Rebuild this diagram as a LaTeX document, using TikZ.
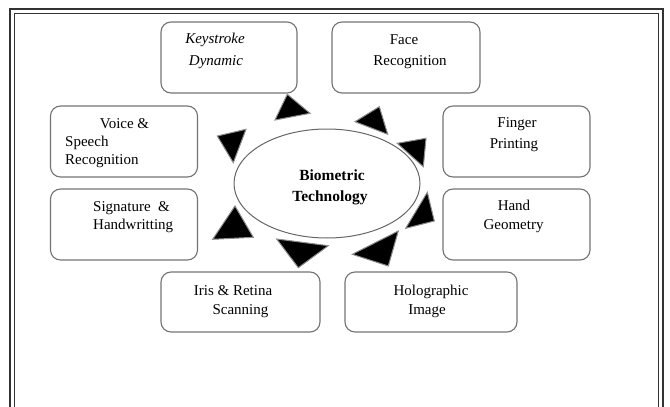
\documentclass[tikz,border=0pt]{standalone}
\usepackage{fontspec}
\setmainfont{Liberation Serif}
\begin{document}
\begin{tikzpicture}[x=1pt,y=-1pt,
  box/.style={draw=black!55, line width=1.1pt, rounded corners=10pt},
  txt/.style={inner sep=0pt, anchor=base, font=\fontsize{15}{18}\selectfont},
  txtl/.style={txt, anchor=base west},
  ray/.style={fill=black, draw=black!45, line width=1pt, line join=miter},
  frameouter/.style={line width=2pt, draw=black!80},
  frameinner/.style={line width=0.8pt, draw=black!80}]
\useasboundingbox (0,0) rectangle (670,407);
% frame
\draw[frameouter] (10,407) -- (10,9) -- (663,9) -- (663,407);
\draw[frameinner] (14.5,407) -- (14.5,13) -- (658.5,13) -- (658.5,407);
% boxes
\node[box, minimum width=136pt, minimum height=71pt] (key) at (229,57.5) {};
\node[box, minimum width=148pt, minimum height=71pt] (face) at (406,57.5) {};
\node[box, minimum width=147pt, minimum height=71pt] (voice) at (124,141.5) {};
\node[box, minimum width=147pt, minimum height=71pt] (finger) at (516.5,141.5) {};
\node[box, minimum width=147pt, minimum height=71pt] (sig) at (124,224.5) {};
\node[box, minimum width=147pt, minimum height=71pt] (hand) at (516.5,224.5) {};
\node[box, minimum width=159pt, minimum height=60pt] (iris) at (240.5,302) {};
\node[box, minimum width=172pt, minimum height=60pt] (holo) at (431,302) {};
% ellipse
\draw[draw=black!60, line width=1pt] (327,183.5) ellipse [x radius=93, y radius=54.5];
\node[txt, font=\fontsize{15.5}{18}\selectfont\bfseries] (bio1) at (332,180.5) {Biometric};
\node[txt, font=\fontsize{15.5}{18}\selectfont\bfseries] (bio2) at (330,201) {Technology};
% texts
\node[txt, font=\fontsize{15}{18}\selectfont\itshape] (k1) at (215,43) {Keystroke};
\node[txt, font=\fontsize{15}{18}\selectfont\itshape] (k2) at (216,65) {Dynamic};
\node[txt] (f1) at (404,44) {Face};
\node[txt] (f2) at (410,65) {Recognition};
\node[txt] (v1) at (124.5,128) {Voice \&};
\node[txtl] (v2) at (65,146) {Speech};
\node[txtl] (v3) at (65,164) {Recognition};
\node[txtl] (s1) at (93,211.5) {Signature\ \ \&};
\node[txtl] (s2) at (93,229) {Handwritting};
\node[txt] (g1) at (517,127) {Finger};
\node[txt] (g2) at (514,148) {Printing};
\node[txt] (h1) at (514,210) {Hand};
\node[txt] (h2) at (513.5,229.5) {Geometry};
\node[txt] (i1) at (233,295) {Iris \& Retina};
\node[txt] (i2) at (240.5,314) {Scanning};
\node[txt] (o1) at (431,295) {Holographic};
\node[txt] (o2) at (427,314) {Image};
% rays
\draw[ray] (287.3,94.3) -- (310,113.3) -- (275,120) -- cycle;
\draw[ray] (379.3,106.7) -- (387.7,134.3) -- (355,121.7) -- cycle;
\draw[ray] (397.3,143.3) -- (426,138.3) -- (423.3,166.7) -- cycle;
\draw[ray] (427.3,192.3) -- (434.3,221) -- (405.7,228.3) -- cycle;
\draw[ray] (398.3,231) -- (388.3,266) -- (352.3,254.3) -- cycle;
\draw[ray] (276.7,239) -- (328.3,245.7) -- (298.3,267.7) -- cycle;
\draw[ray] (235,206) -- (253.3,237.3) -- (212.7,239.3) -- cycle;
\draw[ray] (217.3,136) -- (246,129.3) -- (233.3,162.7) -- cycle;
\end{tikzpicture}
\end{document}
